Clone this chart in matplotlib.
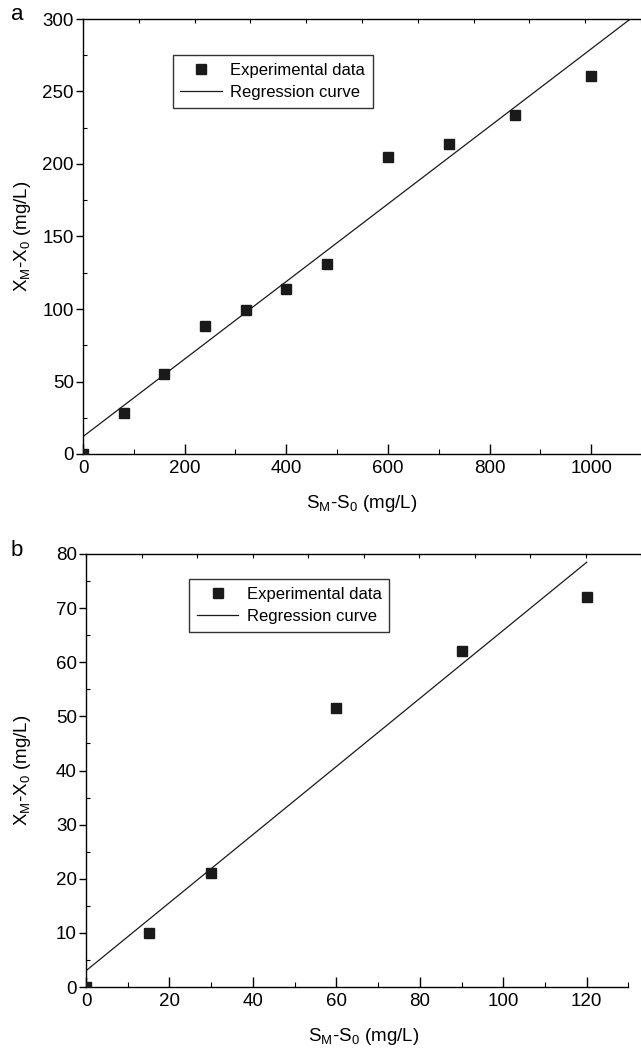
import numpy as np
from matplotlib import pyplot as plt

plt.rcParams['font.family'] = ['Liberation Sans', 'DejaVu Sans']
plt.rcParams['mathtext.fontset'] = 'custom'
plt.rcParams['mathtext.rm'] = 'Liberation Sans'

# panel a
sa = [0, 80, 160, 240, 320, 400, 480, 600, 720, 850, 1000]
xa = [0, 28, 55, 88, 99, 114, 131, 205, 214, 234, 261]
fit_a = [0.2674, 12.0]   # slope, intercept
# panel b
sb = [0, 15, 30, 60, 90, 120]
xb = [0, 10, 21, 51.5, 62, 72]
fit_b = [0.629, 3.0]

ylab = r'X$_\mathregular{M}$-X$_\mathregular{0}$ (mg/L)'
xlab = r'S$_\mathregular{M}$-S$_\mathregular{0}$ (mg/L)'

fig = plt.figure(figsize=(6.41, 10.49), dpi=100)
W, H = 641., 1049.

def panel(l, r, t, b, s, x, fit, xlim, xend, ylim, xmaj, ymaj, leg, letter, fitx):
    ax = fig.add_axes([l/W, 1-b/H, (r-l)/W, (b-t)/H])
    ax.plot(s, x, 's', color='#1a1a1a', ms=6.5, label='Experimental data', zorder=3)
    lx = np.array(fitx)
    ax.plot(lx, np.polyval(fit, lx), '-', color='#1a1a1a', lw=0.9, label='Regression curve')
    ax.set_xlim(*xlim)
    ax.set_ylim(*ylim)
    ax.spines['right'].set_visible(False)
    for sp in ['left', 'bottom', 'top']:
        ax.spines[sp].set_linewidth(1.0)
    ax.spines['bottom'].set_bounds(0, xend)
    ax.set_xticks(np.arange(0, xend + 0.1, xmaj))
    ax.set_xticks(np.arange(xmaj/2, xend + 0.1, xmaj), minor=True)
    ax.set_yticks(np.arange(0, ylim[1] + 0.1, ymaj))
    ax.set_yticks(np.arange(ymaj/2, ylim[1], ymaj), minor=True)
    ax.tick_params(axis='x', which='major', direction='in', length=7, width=1, pad=4, labelsize=13.5, top=False)
    ax.tick_params(axis='x', which='minor', direction='in', length=3.5, width=0.8, top=False)
    ax.tick_params(axis='y', which='major', direction='out', length=5, width=1, pad=1.5, labelsize=13.5, right=False)
    ax.tick_params(axis='y', which='minor', direction='in', length=3, width=0.8, right=False)
    ax.set_xlabel(xlab, fontsize=13.5, labelpad=12)
    ax.set_ylabel(ylab, fontsize=13.5)
    ax.yaxis.set_label_coords((33 - l)/(r - l), 0.5)
    lg = ax.legend(loc='upper left', bbox_to_anchor=leg, borderaxespad=0, fontsize=12,
                   frameon=True, fancybox=False, handlelength=2.5, handletextpad=0.5,
                   borderpad=0.45, labelspacing=0.45)
    lg.get_frame().set_edgecolor('black')
    lg.get_frame().set_linewidth(1.0)
    # top axis ticks
    tw = ax.twiny()
    tw.set_xlim(0, 10)
    tw.set_xticks(range(11))
    tw.tick_params(axis='x', direction='in', length=3, width=0.8, labeltop=False)
    for sp in tw.spines.values():
        sp.set_visible(False)
    fig.text(17/W, 1-(t - 4)/H, letter, fontsize=16, ha='center', va='center')
    return ax

panel(83, 641, 19, 454, sa, xa, fit_a, (0, 1098), 1098, (0, 300), 200, 50,
      (0.161, 0.917), 'a', [0, 1098])
panel(86, 641, 554, 987, sb, xb, fit_b, (0, 133), 130, (0, 80), 20, 10,
      (0.186, 0.942), 'b', [0, 120])

plt.savefig('out.png', dpi=100)
